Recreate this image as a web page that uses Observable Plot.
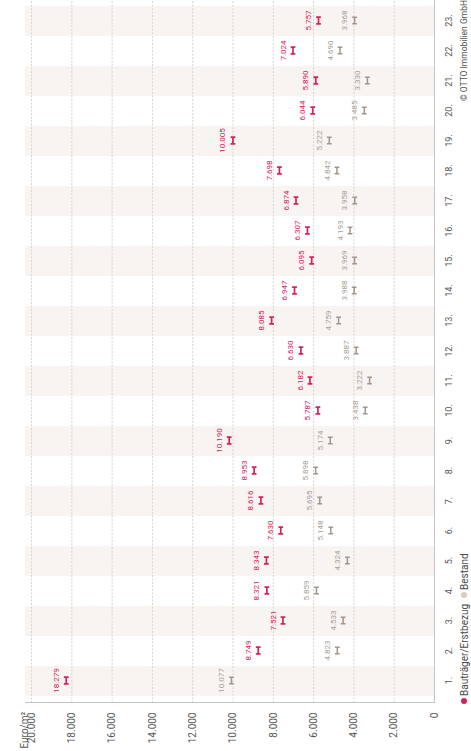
<!DOCTYPE html>
<html>
<head>
<meta charset="utf-8">
<script src="https://cdn.jsdelivr.net/npm/d3@7"></script>
<script src="https://cdn.jsdelivr.net/npm/@observablehq/plot@0.6"></script>
<style>
  html, body { margin: 0; padding: 0; width: 471px; height: 751px; overflow: hidden; background: #fff; }
  /* The figure is laid out upright (751 x 471) and turned a quarter turn counter-clockwise */
  #figure {
    position: absolute; left: 0; top: 751px; width: 751px; height: 471px;
    transform-origin: 0 0; transform: rotate(-90deg);
    font-family: Roboto, "Liberation Sans", "DejaVu Sans", sans-serif; background: #fff;
  }
  #chart svg { display: block; }
  .legend { position: absolute; left: 47px; right: 0; top: 457px; height: 14px;
    display: flex; align-items: center; font-size: 10px; color: #4a4a4a; white-space: nowrap; }
  .legend .dot { width: 6px; height: 6px; border-radius: 50%; display: inline-block; margin-right: 2px; }
  .legend .item { display: inline-flex; align-items: center; margin-right: 6px; }
  .legend .copy { margin-left: auto; font-size: 8.5px; color: #555; }
</style>
</head>
<body>
<div id="figure">
  <div id="chart"></div>
  <div class="legend">
    <span class="item"><span class="dot" id="dotNew"></span>Bauträger/Erstbezug</span>
    <span class="item"><span class="dot" id="dotOld"></span>Bestand</span>
    <span class="copy">© OTTO Immobilien GmbH</span>
  </div>
</div>
<script>
// Vienna districts, price per m² in euros
const districts = ["1.", "2.", "3.", "4.", "5.", "6.", "7.", "8.", "9.", "10.", "11.", "12.",
  "13.", "14.", "15.", "16.", "17.", "18.", "19.", "20.", "21.", "22.", "23."];

// Bauträger/Erstbezug (new build, first occupancy)
const neubau = [18279, 8749, 7521, 8321, 8343, 7630, 8616, 8953, 10190, 5787, 6182, 6630,
  8085, 6947, 6095, 6307, 6874, 7698, 10005, 6044, 5890, 7024, 5757];

// Bestand (existing stock)
const bestand = [10077, 4823, 4533, 5859, 4324, 5148, 5695, 5898, 5174, 3438, 3222, 3887,
  4759, 3988, 3969, 4193, 3958, 4842, 5222, 3485, 3330, 4690, 3968];

const yTicks = [0, 2000, 4000, 6000, 8000, 10000, 12000, 14000, 16000, 18000, 20000];
const unitLabel = ["Euro/m²"];

const red = "#d6225c";
const taupe = "#a1968c";
const taupeText = "#a89f97";
const bandFill = "#f7f4f1";

document.getElementById("dotNew").style.background = red;
document.getElementById("dotOld").style.background = "#d9cdbf";

const de = d3.formatLocale({decimal: ",", thousands: ".", grouping: [3], currency: ["", " €"]});
const fmt = de.format(",d");

const rowsNew = districts.map((d, i) => ({district: d, value: neubau[i]}));
const rowsOld = districts.map((d, i) => ({district: d, value: bestand[i]}));
const shaded = districts.filter((d, i) => i % 2 === 0);

// I-beam marker: a short stem across the band with two end caps
const iBeam = {
  draw(context, size) {
    const r = Math.sqrt(size / Math.PI);
    const h = r * 0.72;
    context.moveTo(-r, -h); context.lineTo(-r, h);
    context.moveTo(r, -h); context.lineTo(r, h);
    context.moveTo(-r, 0); context.lineTo(r, 0);
  }
};

const chart = Plot.plot({
  width: 751,
  height: 456,
  marginLeft: 48,
  marginRight: 0,
  marginTop: 25,
  marginBottom: 22,
  style: {fontFamily: "Roboto, 'Liberation Sans', sans-serif", background: "transparent", color: "#555"},
  x: {type: "band", domain: districts, padding: 0},
  y: {domain: [0, 20300]},
  marks: [
    Plot.cell(shaded, {x: d => d, fill: bandFill}),
    Plot.ruleY(yTicks.slice(1), {stroke: "#d8d3ce", strokeDasharray: "2,1.5"}),
    Plot.ruleY([0], {stroke: "#c6c3c0"}),
    Plot.frame({anchor: "left", stroke: "#c6c3c0"}),
    Plot.axisY({ticks: yTicks, tickFormat: fmt, tickSize: 0, tickPadding: 10, fontSize: 10, fill: "#555", label: null}),
    Plot.axisX({tickSize: 0, tickPadding: 11, fontSize: 9, fill: "#555", label: null}),
    Plot.text(unitLabel, {text: d => d, frameAnchor: "top-left", dx: -46, dy: -5, textAnchor: "start", fontSize: 10, fill: "#555"}),
    Plot.dot(rowsOld, {x: "district", y: "value", symbol: iBeam, r: 3.3, fill: "none", stroke: taupe, strokeWidth: 1.5}),
    Plot.text(rowsOld, {x: "district", y: "value", text: d => fmt(d.value), dy: -10, fontSize: 8, fill: taupeText}),
    Plot.dot(rowsNew, {x: "district", y: "value", symbol: iBeam, r: 3.3, fill: "none", stroke: red, strokeWidth: 1.7}),
    Plot.text(rowsNew, {x: "district", y: "value", text: d => fmt(d.value), dy: -10, fontSize: 8, fill: red})
  ]
});

document.getElementById("chart").append(chart);
</script>
</body>
</html>
